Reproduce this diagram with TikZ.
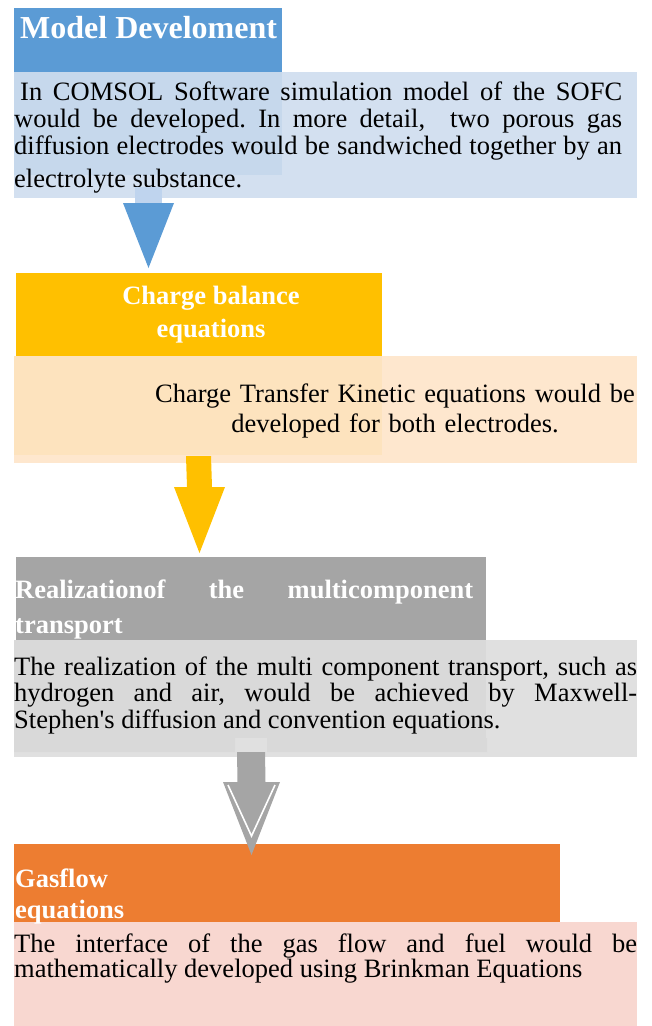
\documentclass[tikz,border=0pt]{standalone}
\usepackage{fontspec}
\setmainfont{Liberation Serif}
\usetikzlibrary{calc}
\setlength{\parindent}{0pt}
\frenchspacing
\tolerance=10000 \hbadness=10000 \hyphenpenalty=10000

\definecolor{blueC}{HTML}{5B9BD5}
\definecolor{blueL}{HTML}{D3E0F0}
\definecolor{blueM}{HTML}{C6D8EC}
\definecolor{blueS}{HTML}{BFD4EE}
\definecolor{yellowC}{HTML}{FFC000}
\definecolor{yellowL}{HTML}{FEE7CE}
\definecolor{yellowM}{HTML}{FDE3BE}
\definecolor{grayC}{HTML}{A5A5A5}
\definecolor{grayL}{HTML}{E0E0E0}
\definecolor{grayM}{HTML}{D9D9D9}
\definecolor{orangeC}{HTML}{ED7D31}
\definecolor{pinkL}{HTML}{F8D7D0}

\newcommand{\firstline}{\rule{0pt}{20pt}}
\newcommand{\squote}{\XeTeXglyph\XeTeXglyphindex "quotesingle"\relax}
% block arrow: colour, top, tip, half shaft, half head, head length
\newcommand{\flowarrow}[6]{%
  \fill[#1] ($(#2)+(-#4,0)$) -- ($(#3)+(-#4,-#6)$) -- ($(#3)+(-#5,-#6)$) -- (#3)
    -- ($(#3)+(#5,-#6)$) -- ($(#3)+(#4,-#6)$) -- ($(#2)+(#4,0)$) -- cycle;}

\tikzset{
  box/.style={anchor=north west, inner sep=0pt, outer sep=0pt, minimum width=#1},
  bodytxt/.style={anchor=north west, inner sep=0pt, align=justify,
    font={\fontsize{26.5}{#1}\selectfont}},
  headtxt/.style={inner sep=0pt, text=white,
    font={\bfseries\fontsize{26.5}{#1}\selectfont}}
}

\begin{document}
\begin{tikzpicture}[x=1pt, y=-1pt]
	\useasboundingbox (0,0) rectangle (651,1026);
	% model development
	\node[box=623, minimum height=126, fill=blueL] (desc1) at (14,72) {};
	\node[box=268, minimum height=103, fill=blueM] (desc1in) at (14,72) {};
	\node[box=268, minimum height=64, fill=blueC] (head1) at (14,8) {};
	\node[headtxt=38, anchor=base west, font={\bfseries\fontsize{32}{38}\selectfont}] (head1txt) at (20,38) {Model Develoment};
	\node[bodytxt=27, text width=608] (desc1txt) at (14,80) {\firstline\hspace*{6pt}In COMSOL Software simulation model of the SOFC\linebreak would be developed. In more detail,~ two porous gas\linebreak diffusion electrodes would be sandwiched together by an\vadjust{\vskip6pt}\linebreak electrolyte substance.};
	\coordinate (a1top) at (148.5,187);
	\coordinate (a1tip) at (148.5,268);
	\fill[blueS] ($(a1top)+(-13.5,0)$) rectangle ($(a1top)+(13.5,16)$);
	\flowarrow{blueC}{$(a1top)+(0,16)$}{a1tip}{13.5}{25.5}{65}

	% charge balance
	\node[box=623, minimum height=107, fill=yellowL] (desc2) at (14,356) {};
	\node[box=368, minimum height=99, fill=yellowM] (desc2in) at (14,356) {};
	\node[box=366, minimum height=83, fill=yellowC] (head2) at (16,273) {};
	\node[headtxt=33, anchor=north, align=center] (head2txt) at (211,284) {\firstline Charge balance\\equations};
	\node[bodytxt=30, anchor=north, align=center, text width=520] (desc2txt) at (395,382) {\firstline Charge Transfer Kinetic equations would be\\developed for both electrodes.};
	\coordinate (a2top) at (198.5,456);
	\coordinate (a2tip) at (199.5,553);
	\flowarrow{yellowC}{a2top}{a2tip}{12.5}{25.5}{66}

	% multicomponent transport
	\node[box=623, minimum height=117, fill=grayL] (desc3) at (14,640) {};
	\node[box=472, minimum height=98, fill=grayM] (desc3in) at (14,640) {};
	\fill[grayM] (14,738) rectangle (235,752) (267,738) rectangle (487,752);
	\node[box=470, minimum height=83, fill=grayC] (head3) at (16,557) {};
	\node[headtxt=35, anchor=north west, align=justify, text width=458] (head3txt) at (15,578) {\firstline Realizationof the multicomponent\linebreak transport};
	\node[bodytxt=26.5, text width=623] (desc3txt) at (14,655) {\firstline The realization of the multi component transport, such as\linebreak hydrogen and air, would be achieved by Maxwell-\linebreak Stephen\squote s diffusion and convention equations.};

	% gas flow
	\node[box=623, minimum height=104, fill=pinkL] (desc4) at (14,922) {};
	\node[box=546, minimum height=78, fill=orangeC] (head4) at (14,844) {};
	\node[headtxt=31, anchor=north west, align=left] (head4txt) at (15,867) {\firstline Gasflow\\equations};
	\node[bodytxt=25, text width=623] (desc4txt) at (14,932) {\firstline The interface of the gas flow and fuel would be\linebreak mathematically developed using Brinkman Equations};

	\coordinate (a3top) at (251,752);
	\coordinate (a3tip) at (251.5,855);
	\flowarrow{grayC}{a3top}{a3tip}{14}{28.5}{73}
	\draw[white, line width=1.6pt] ($(a3tip)+(-23.5,-70)$) -- ($(a3tip)+(0,-19)$) -- ($(a3tip)+(23.5,-70)$);
\end{tikzpicture}
\end{document}
